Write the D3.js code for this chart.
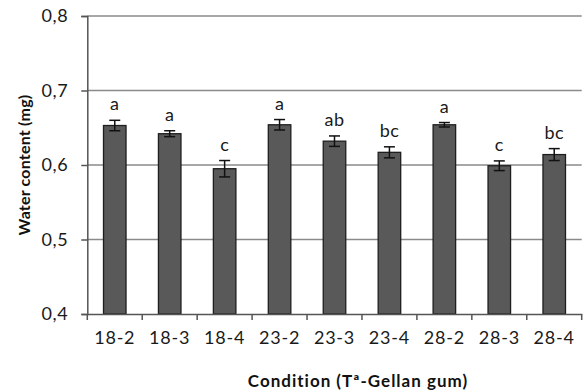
<!DOCTYPE html>
<html>
<head>
<meta charset="utf-8">
<script src="https://cdn.jsdelivr.net/npm/d3@7"></script>
<style>
  body { margin: 0; background: #fff; }
  svg { display: block; font-family: Lato, "Open Sans", sans-serif; }
</style>
</head>
<body>
<div id="chart"></div>
<script>
const conditions = ['18-2', '18-3', '18-4', '23-2', '23-3', '23-4', '28-2', '28-3', '28-4'];
const waterContent = [0.653, 0.642, 0.595, 0.654, 0.632, 0.617, 0.654, 0.599, 0.614];
const errors = [0.007, 0.004, 0.011, 0.007, 0.007, 0.0074, 0.003, 0.0065, 0.008];
const letters = ['a', 'a', 'c', 'a', 'ab', 'bc', 'a', 'c', 'bc'];
const yTicks = [0.4, 0.5, 0.6, 0.7, 0.8];

const W = 583, H = 391;
const margin = { top: 16, right: 1.3, bottom: 77, left: 87.3 };
const width = W - margin.left - margin.right;
const height = H - margin.top - margin.bottom;

const svg = d3.select('#chart')
  .append('svg')
  .attr('width', W)
  .attr('height', H);

const g = svg.append('g')
  .attr('transform', 'translate(' + margin.left + ',' + margin.top + ')');

const x = d3.scaleBand()
  .domain(conditions)
  .range([0, width])
  .paddingInner(0.59)
  .paddingOuter(0.295);

const y = d3.scaleLinear()
  .domain([0.4, 0.8])
  .range([height, 0]);

// gridlines
g.selectAll('.grid')
  .data(yTicks.slice(1))
  .enter().append('line')
  .attr('x1', 0)
  .attr('x2', width)
  .attr('y1', d => y(d))
  .attr('y2', d => y(d))
  .attr('stroke', '#8a8a8a')
  .attr('stroke-width', 1.3);

// y axis
const yAxis = g.append('g')
  .call(d3.axisLeft(y).tickValues(yTicks).tickSize(6).tickPadding(13)
    .tickFormat(d => d3.format('.1f')(d).replace('.', ',')));
yAxis.select('.domain').attr('stroke', '#555').attr('stroke-width', 1.5);
yAxis.selectAll('.tick line').attr('stroke', '#555').attr('stroke-width', 1.5);
yAxis.selectAll('text')
  .style('font-family', 'Lato, "Open Sans", sans-serif')
  .style('font-size', '18px')
  .style('letter-spacing', '0.6px')
  .attr('fill', '#1a1a1a');

// bars
g.selectAll('.bar')
  .data(conditions)
  .enter().append('rect')
  .attr('class', 'bar')
  .attr('x', d => x(d))
  .attr('width', x.bandwidth())
  .attr('y', (d, i) => y(waterContent[i]))
  .attr('height', (d, i) => height - y(waterContent[i]))
  .attr('fill', '#595959')
  .attr('stroke', '#1e1e1e')
  .attr('stroke-width', 1.3);

// error bars
const err = g.selectAll('.err')
  .data(conditions)
  .enter().append('g')
  .attr('class', 'err')
  .attr('transform', d => 'translate(' + (x(d) + x.bandwidth() / 2) + ',0)');

err.append('line')
  .attr('y1', (d, i) => y(waterContent[i] + errors[i]))
  .attr('y2', (d, i) => y(waterContent[i] - errors[i]))
  .attr('stroke', '#111').attr('stroke-width', 1.5);
err.append('line')
  .attr('x1', -5.5).attr('x2', 5.5)
  .attr('y1', (d, i) => y(waterContent[i] + errors[i]))
  .attr('y2', (d, i) => y(waterContent[i] + errors[i]))
  .attr('stroke', '#111').attr('stroke-width', 1.5);
err.append('line')
  .attr('x1', -5.5).attr('x2', 5.5)
  .attr('y1', (d, i) => y(waterContent[i] - errors[i]))
  .attr('y2', (d, i) => y(waterContent[i] - errors[i]))
  .attr('stroke', '#111').attr('stroke-width', 1.5);

// significance letters
err.append('text')
  .attr('y', (d, i) => y(waterContent[i] + errors[i]) - 10)
  .attr('text-anchor', 'middle')
  .style('font-size', '18px')
  .style('letter-spacing', '0.4px')
  .attr('fill', '#1a1a1a')
  .text((d, i) => letters[i]);

// x axis
const xAxis = g.append('g')
  .attr('transform', 'translate(0,' + height + ')')
  .call(d3.axisBottom(x).tickSize(0).tickPadding(17));
xAxis.select('.domain').attr('stroke', '#555').attr('stroke-width', 1.5);
xAxis.selectAll('text')
  .style('font-family', 'Lato, "Open Sans", sans-serif')
  .style('font-size', '18px')
  .style('letter-spacing', '0.8px')
  .attr('fill', '#1a1a1a');

// x ticks between categories
const bounds = d3.range(conditions.length + 1).map(i => i * width / conditions.length);
g.selectAll('.xtick')
  .data(bounds)
  .enter().append('line')
  .attr('x1', d => d).attr('x2', d => d)
  .attr('y1', height).attr('y2', height + 6)
  .attr('stroke', '#555').attr('stroke-width', 1.5);

// axis titles
svg.append('text')
  .attr('transform', 'translate(30,' + (margin.top + height / 2) + ') rotate(-90)')
  .attr('text-anchor', 'middle')
  .style('font-size', '16px')
  .style('font-weight', 'bold')
  .style('letter-spacing', '0.2px')
  .attr('fill', '#111')
  .text('Water content (mg)');

svg.append('text')
  .attr('x', 358)
  .attr('y', 387)
  .attr('text-anchor', 'middle')
  .style('font-size', '17px')
  .style('font-weight', 'bold')
  .style('letter-spacing', '1px')
  .attr('fill', '#111')
  .text('Condition (Tª-Gellan gum)');
</script>
</body>
</html>
